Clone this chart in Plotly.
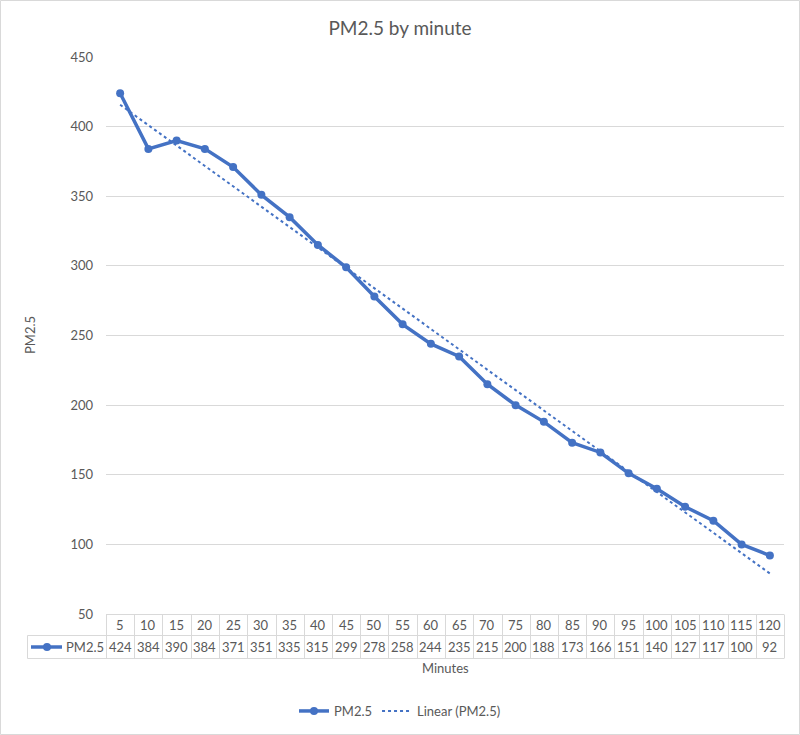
import numpy as np
import plotly.graph_objects as go

minutes = [5, 10, 15, 20, 25, 30, 35, 40, 45, 50, 55, 60, 65, 70, 75, 80, 85, 90, 95, 100, 105, 110, 115, 120]
pm25 = [424, 384, 390, 384, 371, 351, 335, 315, 299, 278, 258, 244, 235, 215, 200, 188, 173, 166, 151, 140, 127, 117, 100, 92]
y_ticks = [50, 100, 150, 200, 250, 300, 350, 400, 450]

W, H = 800, 735
L, R, T, B = 106, 784, 57, 614
n = len(minutes)
idx = np.arange(1, n + 1)
slope, intercept = np.polyfit(idx, pm25, 1)
trend = slope * idx + intercept

BLUE = "#4472C4"
GRID = "#d9d9d9"
TXT = "#595959"
FONT = "Lato, Carlito, Calibri, sans-serif"

def px(xp):
    return (xp - L) / (R - L)

def py(yp):
    return (B - yp) / (B - T)

fig = go.Figure()
fig.add_trace(go.Scatter(x=idx, y=pm25, mode="lines+markers", name="PM2.5",
                         line=dict(color=BLUE, width=3.5), marker=dict(size=8, color=BLUE)))
fig.add_trace(go.Scatter(x=idx, y=trend, mode="lines", name="Linear (PM2.5)",
                         line=dict(color=BLUE, width=2, dash="dot")))

shapes = []
ann = []
line_style = dict(color=GRID, width=1)

def hline(x0, x1, yp):
    shapes.append(dict(type="line", xref="paper", yref="paper", x0=px(x0), x1=px(x1),
                       y0=py(yp), y1=py(yp), line=line_style))

def vline(xp, y0, y1):
    shapes.append(dict(type="line", xref="paper", yref="paper", x0=px(xp), x1=px(xp),
                       y0=py(y0), y1=py(y1), line=line_style))

def text(xp, yp, s, **kw):
    d = dict(x=px(xp), y=py(yp), xref="paper", yref="paper", text=s, showarrow=False,
             xanchor="center", yanchor="middle", font=dict(size=13, color=TXT, family=FONT))
    d.update(kw)
    ann.append(d)

# outer border
shapes.append(dict(type="rect", xref="paper", yref="paper", x0=px(0.5), x1=px(W - 0.5),
                   y0=py(H - 0.5), y1=py(0.5), line=dict(color=GRID, width=1)))
# table
r1_top, r1_bot, r2_bot = 614.5, 635.5, 658.5
cw = (R - L) / n
hline(L, R, r1_top)
hline(27.5, R, r1_bot)
hline(27.5, R, r2_bot)
vline(27.5, r1_bot, r2_bot)
for i in range(n + 1):
    vline(round(L + i * cw) + 0.5, r1_top, r2_bot)
for i in range(n):
    xc = L + (i + 0.5) * cw
    text(xc, (r1_top + r1_bot) / 2, str(minutes[i]))
    text(xc, (r1_bot + r2_bot) / 2, str(pm25[i]))
# legend key inside the table
ykey = (r1_bot + r2_bot) / 2
shapes.append(dict(type="line", xref="paper", yref="paper", x0=px(31), x1=px(62), y0=py(ykey), y1=py(ykey),
                   line=dict(color=BLUE, width=3.5)))
shapes.append(dict(type="circle", xref="paper", yref="paper", x0=px(43), x1=px(51),
                   y0=py(ykey + 4), y1=py(ykey - 4), fillcolor=BLUE, line=dict(color=BLUE, width=0)))
text(64, ykey, "PM2.5", xanchor="left")
# axis titles
text((L + R) / 2, 668, "Minutes")
text(30, 335, "PM2.5", textangle=-90)

fig.update_layout(
    width=W, height=H,
    margin=dict(l=L, r=W - R, t=T, b=H - B),
    paper_bgcolor="white", plot_bgcolor="white",
    title=dict(text="PM2.5 by minute", x=0.5, xref="container", xanchor="center", y=1 - 28 / H, yanchor="middle",
               font=dict(size=19, color=TXT, family=FONT)),
    font=dict(family=FONT, color=TXT, size=13),
    xaxis=dict(range=[0.5, n + 0.5], showticklabels=False, showgrid=False, zeroline=False, showline=False),
    yaxis=dict(range=[50, 450], tickvals=y_ticks, showgrid=True, gridcolor=GRID, gridwidth=1, zeroline=False,
               showline=False, ticks="", ticklabelstandoff=12, tickfont=dict(size=13, color=TXT)),
    legend=dict(orientation="h", xref="container", yref="container", x=0.5, xanchor="center",
                y=1 - 711 / H, yanchor="middle", font=dict(size=13, color=TXT, family=FONT)),
    shapes=shapes, annotations=ann,
)

fig.write_html("out.html")
